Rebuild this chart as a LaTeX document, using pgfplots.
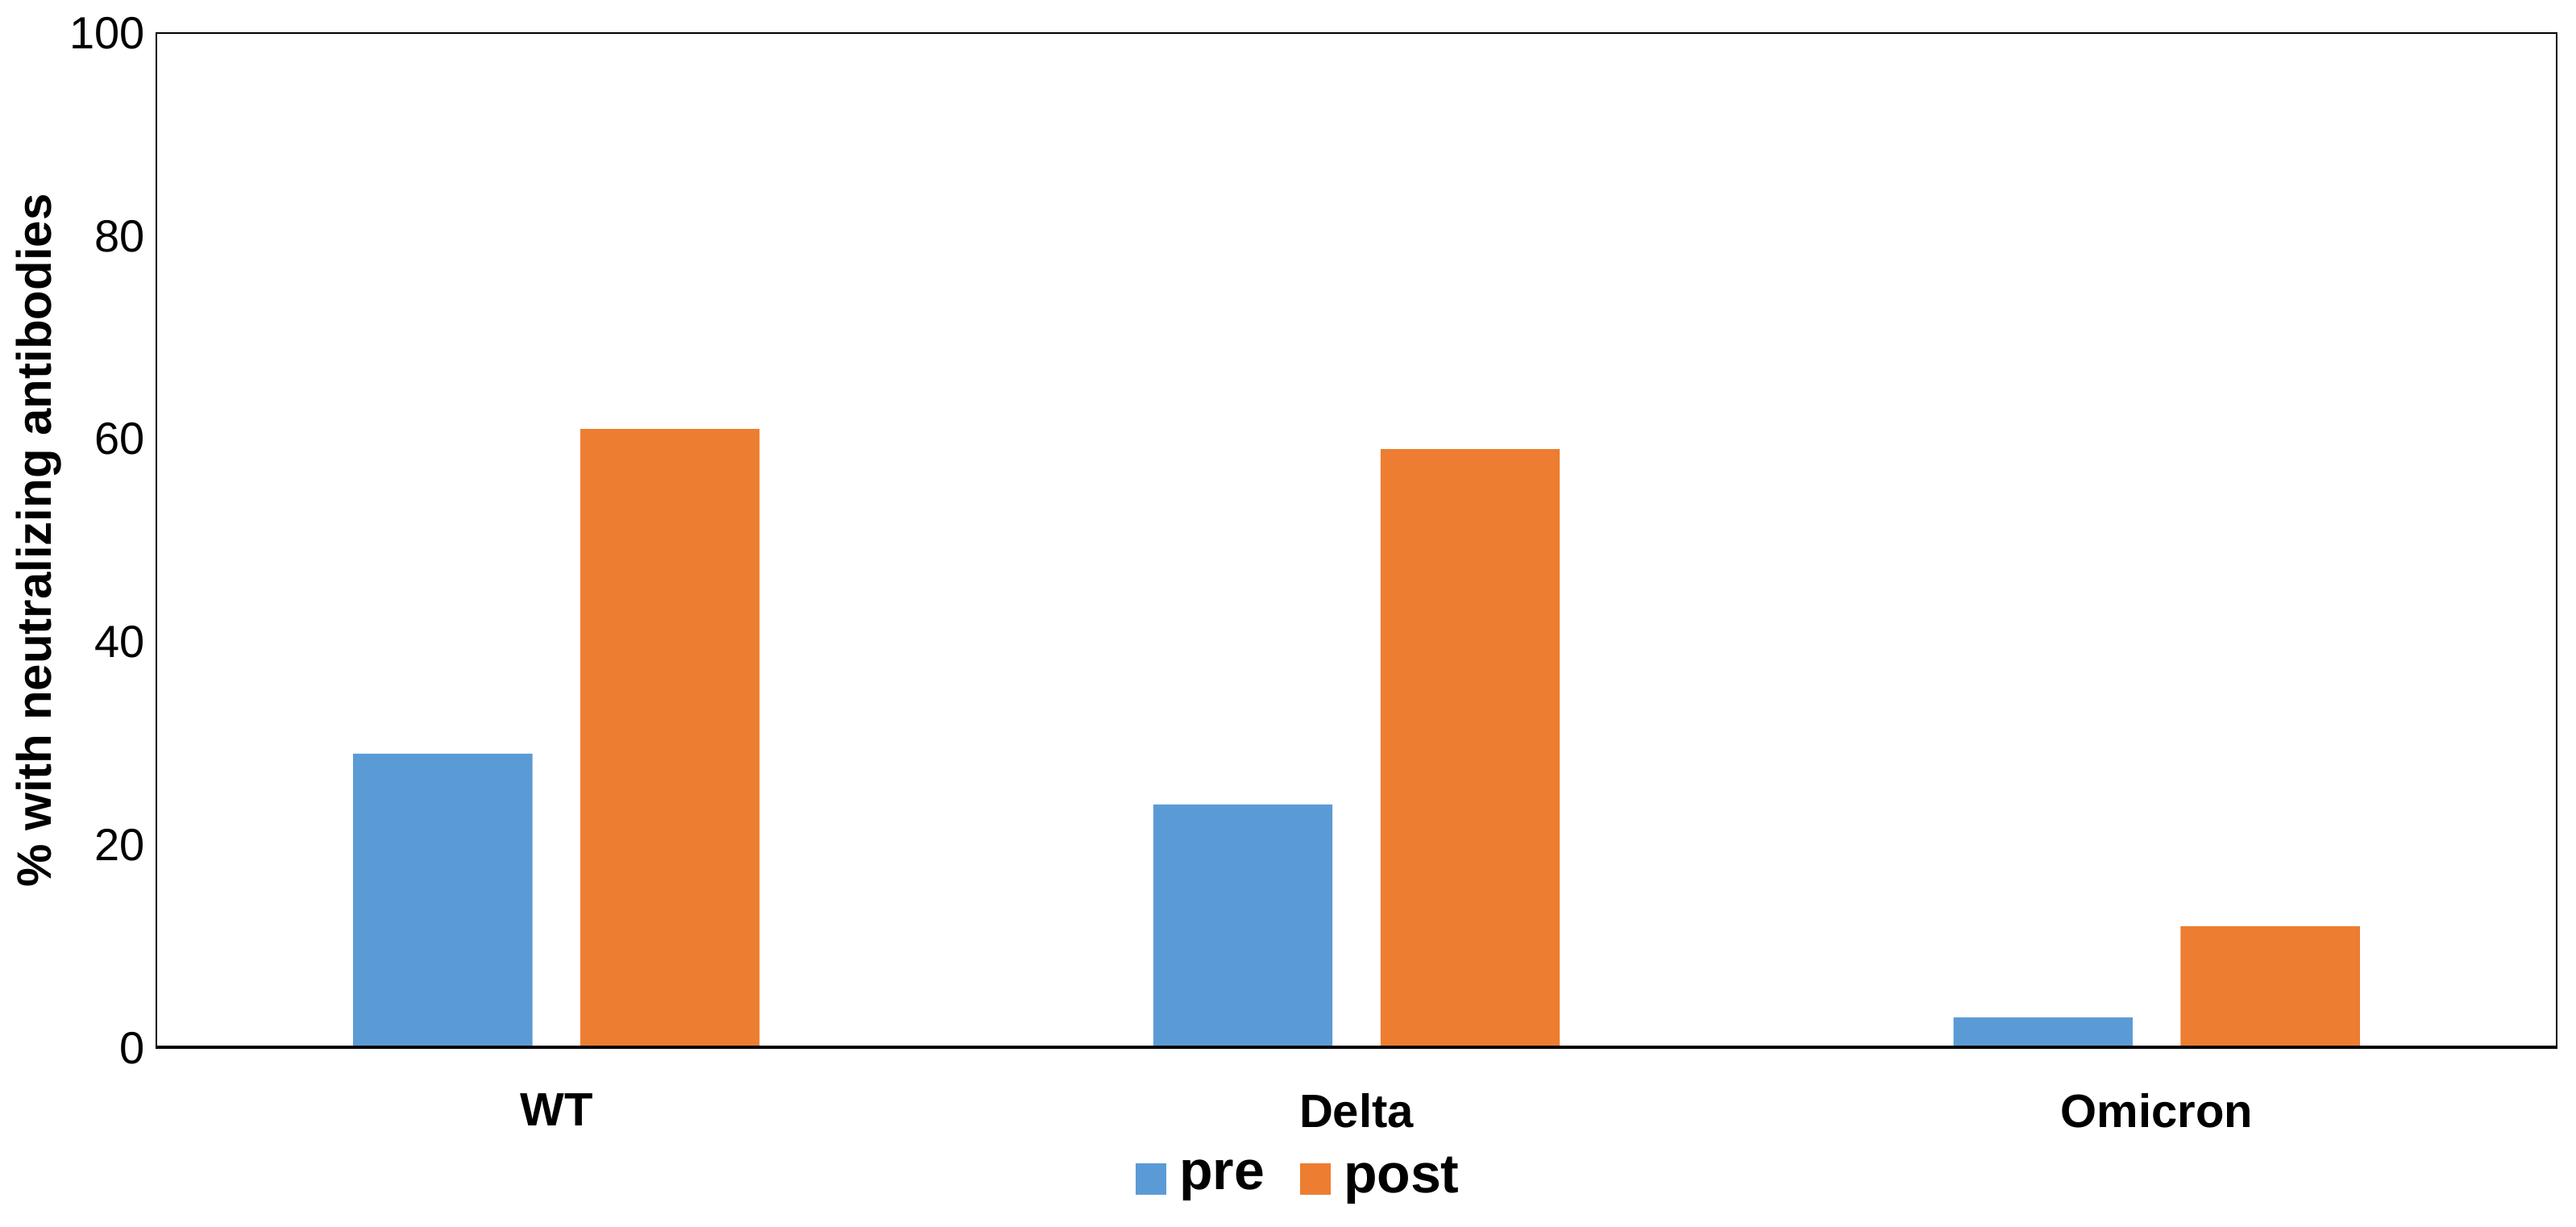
\documentclass[border=0pt]{standalone}
\usepackage{pgfplots}
\pgfplotsset{compat=1.18}
\usepackage{fontspec}
\setmainfont{Liberation Sans}
\definecolor{preblue}{HTML}{5B9BD5}
\definecolor{postorange}{HTML}{ED7D31}
\begin{document}
\begin{tikzpicture}
\path[use as bounding box] (-48.5pt,-55.25pt) rectangle (750.5pt,325pt);
\begin{axis}[
  at={(0,0)}, anchor=south west,
  scale only axis, width=744.5pt, height=314.75pt,
  ybar, xmin=-0.5, xmax=2.5, ymin=0, ymax=100,
  xtick={0,1,2}, xticklabels={WT,Delta,Omicron},
  ytick={0,20,40,60,80,100},
  major tick length=0pt,
  axis line style={line width=0.6pt},
  /pgf/number format/assume math mode=true,
  yticklabel style={font=\fontsize{14}{16}\selectfont},
  xticklabel style={font=\fontsize{14.5}{17}\selectfont\bfseries, yshift=-10.5pt},
  ylabel={\% with neutralizing antibodies},
  every axis y label/.style={at={([xshift=-36.5pt]axis description cs:0,0.5)}, rotate=90, anchor=center, font=\fontsize{15}{17}\selectfont\bfseries},
  bar width=0.224,
  legend columns=2,
  legend style={draw=none, fill=none, at={(0.4768,-0.127)}, anchor=center,
    font=\fontsize{17}{20}\selectfont\bfseries,
    /tikz/every even column/.append style={column sep=9pt}},
  legend image code/.code={\fill[#1] (0pt,-5.5pt) rectangle (9.5pt,4.3pt); \path (11.5pt,0pt);},
]
\addplot[fill=preblue, draw=none, bar shift=-0.142] coordinates {(0,29) (1,24) (2,3)};
\addplot[fill=postorange, draw=none, bar shift=0.142] coordinates {(0,61) (1,59) (2,12)};
\legend{pre,post}
\draw[line width=1.5pt] (rel axis cs:0,0) -- (rel axis cs:1,0);
\end{axis}
\end{tikzpicture}
\end{document}
